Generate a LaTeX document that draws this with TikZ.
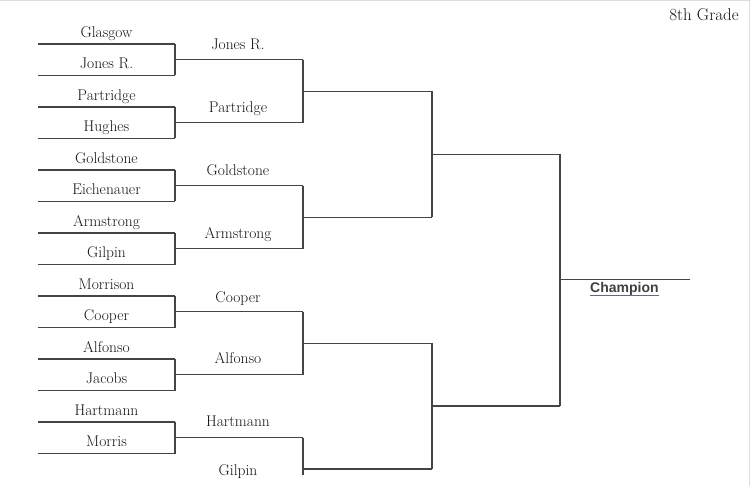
\documentclass[tikz,border=0pt]{standalone}
\usepackage{fontspec}
\newfontfamily\champfont{Liberation Sans}
\definecolor{bracketgray}{HTML}{444444}
\definecolor{framegray}{HTML}{DDDDDD}
\definecolor{champblue}{HTML}{5A6A8A}
\tikzset{
  bline/.style={draw=bracketgray, line width=1.1pt},
  player/.style={font=\fontsize{15.5}{17}\selectfont, text=black!92, anchor=base, inner sep=0pt},
  champ/.style={font=\champfont\bfseries\fontsize{14}{16}\selectfont, text=black!75, anchor=base west, inner sep=0pt},
}

\begin{document}
\begin{tikzpicture}[x=1pt,y=-1pt]
\useasboundingbox (0,0) rectangle (751,486);
\draw[framegray, line width=1.5pt] (0,0.75) -- (749.25,0.75) -- (749.25,486);
\node[player, font=\fontsize{17}{19}\selectfont] (grade) at (704,20.5) {8th Grade};
%
% first round
\foreach \n [count=\i from 0] in {Glasgow, Jones R., Partridge, Hughes, Goldstone, Eichenauer, Armstrong, Gilpin, Morrison, Cooper, Alfonso, Jacobs, Hartmann, Morris}{
  \coordinate (a\i) at (38,44+31.5*\i);
  \coordinate (b\i) at (175,44+31.5*\i);
  \draw[bline] (a\i) -- (b\i);
  \node[player] (p\i) at (106.5,37.3+31.5*\i) {\n};
}
% second round
\foreach \n/\d [count=\k from 0] in {Jones R./10, Partridge/10.3, Goldstone/10, Armstrong/10.4, Cooper/9.5, Alfonso/11.4, Hartmann/11.7}{
  \pgfmathtruncatemacro{\u}{2*\k}
  \pgfmathtruncatemacro{\v}{2*\k+1}
  \coordinate (c\k) at (175,59.75+63*\k);
  \coordinate (d\k) at (303,59.75+63*\k);
  \draw[bline] (b\u) -- (b\v);
  \draw[bline] (c\k) -- (d\k);
  \node[player] (q\k) at (238,59.75+63*\k-\d) {\n};
}
\node[player] (q7) at (238,475) {Gilpin};
% third round
\coordinate (d7) at (303,469);
\foreach \k/\y in {0/91.25, 1/217.25, 2/343.25, 3/469}{
  \coordinate (e\k) at (303,\y);
  \coordinate (f\k) at (432,\y);
  \draw[bline] (e\k) -- (f\k);
}
\draw[bline] (d0) -- (d1);
\draw[bline] (d2) -- (d3);
\draw[bline] (d4) -- (d5);
\draw[bline] (d6) -- (303,475);
% semifinal and final
\coordinate (g0) at (432,154.25);
\coordinate (g1) at (432,406);
\coordinate (h0) at (560,154.25);
\coordinate (h1) at (560,406);
\draw[bline] (f0) -- (f1);
\draw[bline] (f2) -- (f3);
\draw[bline] (g0) -- (h0);
\draw[bline] (g1) -- (h1);
\draw[bline] (h0) -- (h1);
\coordinate (win) at (560,279.5);
\coordinate (wend) at (690,279.5);
\draw[bline] (win) -- (wend);
\node[champ] (champion) at (590,292.7) {Champion};
\draw[champblue, line width=1pt] ([yshift=-3pt]champion.base west) -- ([yshift=-3pt]champion.base east);
\end{tikzpicture}
\end{document}
